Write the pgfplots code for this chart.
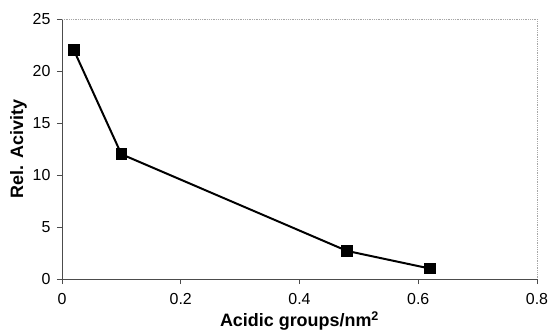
\documentclass[border=0pt]{standalone}
\usepackage{pgfplots}
\pgfplotsset{compat=1.18}
\usepackage{fontspec}
\setmainfont{Liberation Sans}
\begin{document}
\begin{tikzpicture}
\begin{axis}[
  scale only axis,
  width=475bp, height=260bp,
  xmin=0, xmax=0.8, ymin=0, ymax=25,
  xtick={0,0.2,0.4,0.6,0.8},
  ytick={0,5,10,15,20,25},
  axis x line*=bottom, axis y line*=left,
  axis line style={black!70, line width=0.8pt, -},
  tick style={black!70, line width=0.8pt},
  tick align=outside, major tick length=5bp,
  tick label style={font=\fontsize{16}{18}\selectfont},
  xticklabel style={yshift=-6bp, /pgf/number format/precision=1},
  yticklabel style={xshift=-3bp},
  label style={font=\fontsize{18}{20}\selectfont\bfseries},
  /pgf/number format/assume math mode=true,
  /pgf/number format/fixed,
  xlabel={Acidic groups/nm\textsuperscript{2}},
  ylabel={Rel. Acivity},
  xlabel style={yshift=0bp},
  ylabel style={yshift=-1bp},
  clip=false,
]
\draw[gray!70, densely dotted, line width=0.8pt] (rel axis cs:0,1) -- (rel axis cs:1,1) -- (rel axis cs:1,0);
\addplot[black, line width=2pt, mark=square*, mark size=4.8bp, mark options={solid}] coordinates {
  (0.02,22) (0.1,12) (0.48,2.7) (0.62,1)
};
\end{axis}
\pgfresetboundingbox
\path[use as bounding box] (current axis.south west) ++(-62bp,-52bp) rectangle ++(550bp,331bp);
\end{tikzpicture}
\end{document}
